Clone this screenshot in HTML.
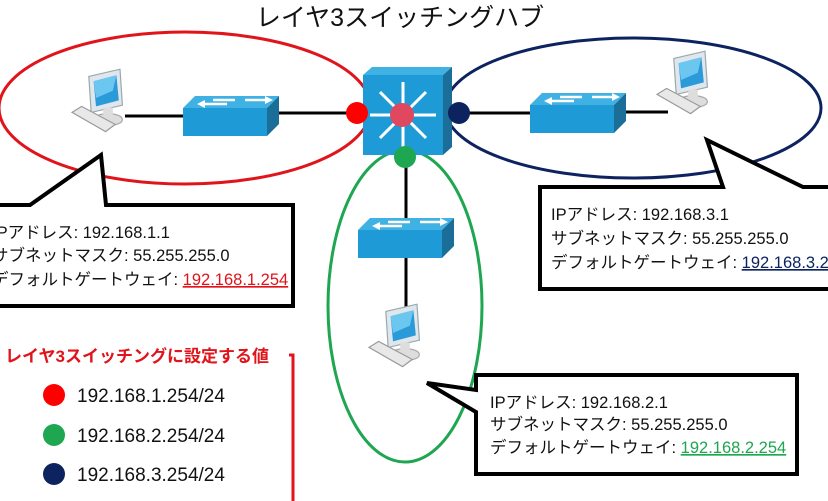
<!DOCTYPE html>
<html><head><meta charset="utf-8"><style>
html,body{margin:0;padding:0;background:#fff;width:828px;height:501px;overflow:hidden}
svg text{font-family:"Liberation Sans","Noto Sans CJK JP",sans-serif}
</style></head><body>
<svg width="828" height="501" viewBox="0 0 828 501" xmlns="http://www.w3.org/2000/svg">
<defs>
<g id="pc">
  <polygon points="-16,-28 10,-34 12,-4 -14,2" fill="#dfe6ee" stroke="#9aa" stroke-width="1"/>
  <polygon points="-12,-24 7,-29 9,-8 -10,-3" fill="#2a9ad8"/>
  <polygon points="-12,-24 7,-29 4,-16 -10,-10" fill="#6cc7f0"/>
  <ellipse cx="0" cy="8" rx="12" ry="5" fill="#ddd" stroke="#aaa"/>
  <rect x="-4" y="-2" width="8" height="9" fill="#ddd"/>
  <polygon points="-30,2 -22,-3 6,12 -2,18" fill="#e8e8e8" stroke="#999"/>
</g>
<g id="sw">
  <polygon points="0,12 12,0 96,0 84,12" fill="#3fb1e2"/>
  <polygon points="84,12 96,0 96,28 84,40" fill="#1b6e97"/>
  <rect x="0" y="12" width="84" height="28" fill="#1e9bd7"/>
  <path d="M20,8 L44,8 M62,4 L86,4 M30,4 L52,4" stroke="#fff" stroke-width="2.5"/>
  <polygon points="14,8 22,4 22,12" fill="#fff"/>
  <polygon points="90,4 82,0 82,8" fill="#fff"/>
</g>
</defs>

<text x="400" y="26" font-size="25" text-anchor="middle" fill="#111">レイヤ3スイッチングハブ</text>

<ellipse cx="185" cy="108" rx="186" ry="76" fill="none" stroke="#e0141a" stroke-width="3"/>
<ellipse cx="633" cy="108" rx="188" ry="70" fill="none" stroke="#0d2360" stroke-width="3"/>
<ellipse cx="405" cy="306" rx="77" ry="156" fill="none" stroke="#1ea650" stroke-width="3"/>

<path d="M125,116 L183,116 M279,113 L357,113 M459,113 L530,113 M626,112 L668,112 M406,157 L406,320" stroke="#000" stroke-width="3"/>

<use href="#pc" transform="translate(108,110) scale(1.2)"/>
<use href="#sw" x="183" y="96"/>
<use href="#sw" x="530" y="93"/>
<use href="#sw" x="358" y="218"/>
<use href="#pc" transform="translate(693,92) scale(1.2)"/>
<use href="#pc" transform="translate(405,345) scale(1.2)"/>

<!-- L3 switch -->
<polygon points="363,75 372,67 452,67 443,75" fill="#3fb1e2"/>
<polygon points="443,75 452,67 452,147 443,155" fill="#1b6e97"/>
<rect x="363" y="75" width="80" height="80" fill="#1e9bd7"/>
<g stroke="#fff" stroke-width="3">
<path d="M403,82 L403,148 M370,115 L436,115 M380,92 L426,138 M426,92 L380,138"/>
</g>
<circle cx="402" cy="115" r="12" fill="#e04860"/>
<circle cx="357" cy="113" r="11" fill="#f00"/>
<circle cx="459" cy="113" r="11" fill="#0d2360"/>
<circle cx="405" cy="157" r="11" fill="#1ea650"/>

<!-- left callout -->
<path d="M-5,205 L30,205 L101,155 L106,205 L293,205 L293,306 L-5,306 Z" fill="#fff" stroke="#000" stroke-width="4" stroke-linejoin="miter"/>
<g font-size="16.5" fill="#111">
<text x="-8" y="238">IPアドレス: 192.168.1.1</text>
<text x="-8" y="261">サブネットマスク: 55.255.255.0</text>
<text x="-8" y="285">デフォルトゲートウェイ: <tspan fill="#e0141a" text-decoration="underline">192.168.1.254</tspan></text>
</g>

<!-- right top callout -->
<path d="M540,187 L723,187 L707,140 L803,187 L835,187 L835,289 L540,289 Z" fill="#fff" stroke="#000" stroke-width="4"/>
<g font-size="16.5" fill="#111">
<text x="551" y="220">IPアドレス: 192.168.3.1</text>
<text x="551" y="244">サブネットマスク: 55.255.255.0</text>
<text x="551" y="268">デフォルトゲートウェイ: <tspan fill="#0d2360" text-decoration="underline">192.168.3.254</tspan></text>
</g>

<!-- bottom right callout -->
<path d="M476,375 L797,375 L797,474 L476,474 L476,412 L427,383 L476,390 Z" fill="#fff" stroke="#000" stroke-width="4"/>
<g font-size="16.5" fill="#111">
<text x="490" y="408">IPアドレス: 192.168.2.1</text>
<text x="490" y="430">サブネットマスク: 55.255.255.0</text>
<text x="490" y="453">デフォルトゲートウェイ: <tspan fill="#1ea650" text-decoration="underline">192.168.2.254</tspan></text>
</g>

<!-- legend -->
<text x="5" y="362" font-size="17" font-weight="bold" fill="#e0141a">レイヤ3スイッチングに設定する値</text>
<path d="M289,355 L293,355 L293,501" fill="none" stroke="#e0141a" stroke-width="3"/>
<circle cx="54" cy="395" r="11" fill="#f00"/>
<circle cx="54" cy="435" r="11" fill="#1ea650"/>
<circle cx="54" cy="474" r="11" fill="#0d2360"/>
<g font-size="19" fill="#111">
<text x="77" y="402">192.168.1.254/24</text>
<text x="77" y="442">192.168.2.254/24</text>
<text x="77" y="481">192.168.3.254/24</text>
</g>
</svg>
</body></html>
